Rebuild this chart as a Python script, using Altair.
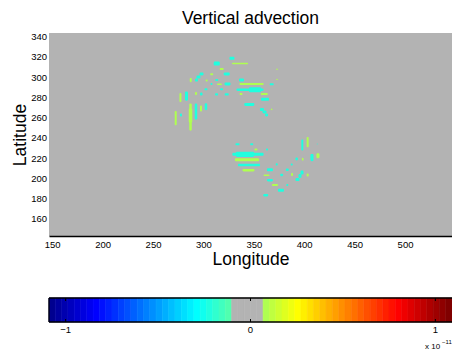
import altair as alt
import pandas as pd

# ---- field: isolated patches of vertical advection (units of 1e-11) ----
# centre longitude / latitude, extent in degrees, value
blob_lon = [328.3, 313.2, 336.3, 318.1, 323.1, 298.1, 295.1, 293.1, 308.2, 337.8,
            313.2, 287.4, 303.2, 373.0, 373.0, 308.0, 315.9, 323.9, 347.7, 367.7,
            302.5, 318.0, 346.2, 351.2, 283.2, 277.2, 292.6, 297.9, 313.0, 323.1,
            337.3, 360.4, 361.1, 345.5, 358.1, 360.6, 362.6, 277.7, 287.2, 287.2,
            292.6, 297.6, 302.5, 272.5, 367.7,
            333.8, 347.9, 398.1, 403.4, 412.9, 352.1, 363.1, 344.2, 341.2, 343.2,
            407.7, 413.6, 398.5, 392.5, 345.2, 372.7, 387.6, 344.7, 366.0, 383.2,
            397.8, 395.8, 393.3, 403.4, 377.6, 362.6, 387.9, 366.0, 371.0, 383.2,
            376.9, 361.8]
blob_lat = [318.6, 313.4, 313.4, 308.0, 303.1, 303.1, 300.1, 297.1, 302.8, 297.1,
            297.1, 297.1, 296.8, 307.7, 297.8, 293.2, 292.9, 293.2, 293.2, 292.9,
            288.0, 288.0, 287.6, 287.6, 281.3, 279.9, 283.8, 283.3, 283.0, 283.0,
            283.3, 283.3, 278.1, 273.0, 268.0, 265.6, 262.6, 262.6, 260.6, 262.0,
            266.0, 269.0, 270.8, 259.6, 268.2,
            233.7, 233.7, 233.0, 235.9, 234.0, 228.5, 228.5, 223.8, 223.8, 218.4,
            220.6, 222.4, 218.9, 219.2, 213.2, 213.9, 213.7, 208.1, 208.5, 208.5,
            205.8, 202.4, 198.9, 203.4, 203.4, 203.2, 203.9, 198.2, 193.5, 193.5,
            188.3, 183.4]
blob_w = [5, 6, 16, 4, 6, 4, 4, 3, 3, 5,
          3, 2, 2, 1.5, 1.5, 2, 5, 6, 24, 4,
          3, 3, 27, 12, 3, 2, 2, 2.5, 3, 4,
          3, 7, 8, 10, 4, 4, 3, 2, 2.5, 3.5,
          2.5, 2, 2.5, 2, 1.5,
          4, 3, 2, 2, 1, 3, 2, 31, 18, 24,
          3, 3, 1.5, 2.5, 22, 2, 2, 12, 6, 3,
          3, 3, 4, 2, 3, 6, 2, 6, 6, 2,
          6, 5]
blob_h = [3, 4, 1.5, 2, 3, 3, 3, 3, 2, 3,
          2, 4, 2, 1.5, 1.5, 2, 1.5, 3, 2, 2,
          2, 2, 2.5, 5, 9, 9, 3, 3, 2, 2,
          2, 2, 3, 3, 3, 3, 3, 3, 27, 14,
          16, 6, 7, 14, 1.5,
          2, 2, 11, 10, 1, 2, 2, 3, 5, 3,
          7, 5, 3, 3, 2.5, 2, 2, 2.5, 3, 2.5,
          4, 4, 3, 3, 2.5, 1.5, 3, 2.5, 2, 2,
          3, 2.5]
N, P = -0.22, 0.09
blob_val = [N, N, P, P, N, N, N, N, P, N,
            N, P, P, P, P, N, P, N, P, N,
            N, N, N, N, N, P, P, N, N, N,
            P, P, N, N, N, N, N, N, P, P,
            N, P, N, P, P,
            N, N, N, P, N, P, N, N, N, P,
            N, P, P, N, N, N, N, P, N, N,
            N, N, N, P, N, P, P, N, P, N,
            N, N]

# ---- axes ----
lon_domain = [146.8, 546.6]
lat_domain = [143.2, 343.6]
lon_ticks = [150, 200, 250, 300, 350, 400, 450, 500]
lat_ticks = [160, 180, 200, 220, 240, 260, 280, 300, 320, 340]

# ---- colour bar ----
cb_min, cb_max = -1.09, 1.09
n_colors = 64
gray_rows = [30, 31, 32, 33, 34]       # rows of the map replaced by the neutral grey
cb_ticks = [-1, 0, 1]
cb_tick_text = ["\u22121", "0", "1"]
GRAY = "#b3b3b3"


def jet(i):
    """Row i (1-based) of a 64-entry jet colour map as a hex string."""
    if i <= 8:
        r, g, b = 0, 0, 0.5 + i / 16
    elif i <= 24:
        r, g, b = 0, (i - 8) / 16, 1
    elif i <= 40:
        r, g, b = (i - 24) / 16, 1, 1 - (i - 24) / 16
    elif i <= 56:
        r, g, b = 1, 1 - (i - 40) / 16, 0
    else:
        r, g, b = 1 - (i - 56) / 16, 0, 0
    return "#%02x%02x%02x" % tuple(int(round(c * 255)) for c in (r, g, b))


def row_of(v):
    k = int((v - cb_min) / (cb_max - cb_min) * n_colors)
    return min(max(k, 0), n_colors - 1) + 1


def cmap(v):
    r = row_of(v)
    return GRAY if r in gray_rows else jet(r)


step = (cb_max - cb_min) / n_colors
cb_df = pd.DataFrame({
    "c0": [cb_min + k * step for k in range(n_colors)],
    "c1": [cb_min + (k + 1) * step for k in range(n_colors)],
    "color": [GRAY if (k + 1) in gray_rows else jet(k + 1) for k in range(n_colors)],
})

df = pd.DataFrame({"lon": blob_lon, "lat": blob_lat, "w": blob_w, "h": blob_h, "v": blob_val})
df["x0"] = df.lon - df.w / 2
df["x1"] = df.lon + df.w / 2
df["y0"] = df.lat - df.h / 2
df["y1"] = df.lat + df.h / 2
df["color"] = [cmap(v) for v in df.v]

FONT = "Liberation Sans"
W, H = 403, 203
CB_TOP, CB_BOT = 265, 289

blobs = alt.Chart(df).mark_rect(cornerRadius=1.2).encode(
    x=alt.X("x0:Q", scale=alt.Scale(domain=lon_domain, nice=False, zero=False),
            axis=alt.Axis(values=lon_ticks, title="Longitude", labelFontSize=9.5,
                          labelPadding=3, ticks=False, grid=False, domain=True,
                          domainColor="black", domainWidth=1.5, titleFontSize=17.5,
                          titlePadding=2, labelFlush=False, titleFontWeight="normal",
                          labelFont=FONT, titleFont=FONT, labelColor="black",
                          titleColor="black")),
    x2="x1:Q",
    y=alt.Y("y0:Q", scale=alt.Scale(domain=lat_domain, nice=False, zero=False),
            axis=alt.Axis(values=lat_ticks, title="Latitude", labelFontSize=9.5,
                          labelPadding=2.5, ticks=False, grid=False, domain=False,
                          titleFontSize=17.5, titlePadding=1, labelFlush=False,
                          titleFontWeight="normal", labelFont=FONT, titleFont=FONT,
                          labelColor="black", titleColor="black")),
    y2="y1:Q",
    color=alt.Color("color:N", scale=None),
)

cb_x = alt.X("c0:Q", scale=alt.Scale(domain=[cb_min, cb_max], nice=False, zero=False), axis=None)

cbar = alt.Chart(cb_df).mark_rect(strokeWidth=0.6).encode(
    x=cb_x, x2="c1:Q",
    y=alt.value(CB_TOP), y2=alt.value(CB_BOT),
    color=alt.Color("color:N", scale=None),
    stroke=alt.Stroke("color:N", scale=None),
)

frame_df = pd.DataFrame({"c0": [cb_min], "c1": [cb_max]})
frame_top = alt.Chart(frame_df).mark_rule(color="black", strokeWidth=1.3).encode(
    x=cb_x, x2="c1:Q", y=alt.value(CB_TOP))
frame_bot = alt.Chart(frame_df).mark_rule(color="black", strokeWidth=1.3).encode(
    x=cb_x, x2="c1:Q", y=alt.value(CB_BOT))
frame_left = alt.Chart(frame_df).mark_rule(color="black", strokeWidth=1.3).encode(
    x=cb_x, y=alt.value(CB_TOP), y2=alt.value(CB_BOT))

tick_df = pd.DataFrame({"c0": cb_ticks, "label": cb_tick_text})
tick_up = alt.Chart(tick_df).mark_rule(color="black", strokeWidth=1).encode(
    x=cb_x, y=alt.value(CB_TOP), y2=alt.value(CB_TOP + 3))
tick_dn = alt.Chart(tick_df).mark_rule(color="black", strokeWidth=1).encode(
    x=cb_x, y=alt.value(CB_BOT - 3), y2=alt.value(CB_BOT))
tick_lbl = alt.Chart(tick_df).mark_text(font=FONT, fontSize=9.5, color="black",
                                        baseline="middle", align="center").encode(
    x=cb_x, y=alt.value(CB_BOT + 7.5), text="label:N")

exp_df = pd.DataFrame({"t": ["x 10"], "s": ["\u221211"]})
exp_base = alt.Chart(exp_df).mark_text(font=FONT, fontSize=8, color="black",
                                       align="left", baseline="alphabetic").encode(
    x=alt.value(376), y=alt.value(316), text="t:N")
exp_sup = alt.Chart(exp_df).mark_text(font=FONT, fontSize=6, color="black",
                                      align="left", baseline="alphabetic").encode(
    x=alt.value(393), y=alt.value(311), text="s:N")

colorbar = alt.layer(cbar, frame_top, frame_bot, frame_left, tick_up, tick_dn, tick_lbl,
                     exp_base, exp_sup)

chart = alt.layer(blobs, colorbar).resolve_scale(x="independent").properties(
    width=W, height=H,
    background="white",
    title=alt.TitleParams("Vertical advection", fontSize=17.5, fontWeight="normal",
                          font=FONT, color="black", offset=4, anchor="middle"),
    autosize=alt.AutoSizeParams(type="none"),
    padding={"left": 49, "top": 33, "right": 0, "bottom": 118},
).configure_view(fill=GRAY, stroke=None)

chart.save("out.html", embed_options={"renderer": "svg", "actions": False})
